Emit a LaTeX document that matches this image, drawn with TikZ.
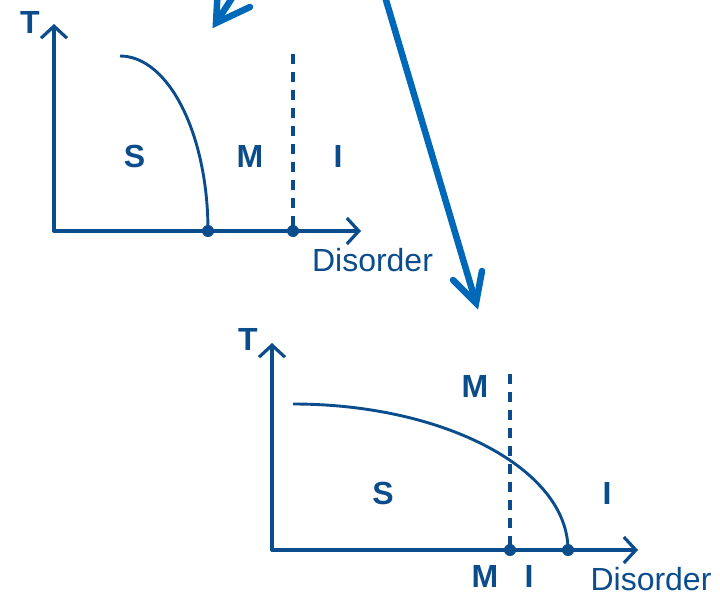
\documentclass[tikz,border=0pt]{standalone}
\usepackage{fontspec}
\setmainfont{Liberation Sans}
\usetikzlibrary{arrows.meta}
\definecolor{dblue}{HTML}{0B4C8C}
\definecolor{ablue}{HTML}{0068B8}
\tikzset{
  axis/.style={draw=dblue, line width=3.2pt, line cap=round, -{Straight Barb[length=12pt,width=26pt,line width=3.2pt]}},
  curve/.style={draw=dblue, line width=2.9pt},
  dashline/.style={draw=dblue, line width=3.2pt, dash pattern=on 10pt off 8pt},
  lbl/.style={text=dblue, inner sep=0pt, anchor=base, font=\fontsize{32}{36}\selectfont\bfseries},
  dlbl/.style={text=dblue, inner sep=0pt, anchor=base, font=\fontsize{32}{37}\selectfont},
  dot/.style={fill=dblue},
  bigarrow/.style={draw=ablue, line width=6.5pt, line cap=round, line join=miter},
}
\begin{document}
\begin{tikzpicture}[x=1pt,y=-1pt]
\useasboundingbox (0,0) rectangle (720,597);
% ---------- top diagram ----------
\coordinate (o1) at (54,231);
\coordinate (y1) at (54,24);
\coordinate (x1) at (361,231);
\draw[axis] (o1) -- (y1);
\draw[axis] (o1) -- (x1);
\coordinate (c1s) at (120,56);
\coordinate (c1e) at (208,231);
\draw[curve] (c1s) .. controls (168.6,56) and (208,134.4) .. (c1e);
\coordinate (d1t) at (293,54);
\coordinate (d1b) at (293,231);
\draw[dashline] (d1t) -- (d1b);
\fill[dot] (c1e) circle (6pt);
\fill[dot] (d1b) circle (6pt);
\node[lbl] (T1) at (30,33) {T};
\node[lbl] (S1) at (134.5,167) {S};
\node[lbl] (M1) at (250,167) {M};
\node[lbl] (I1) at (338,167) {I};
\node[dlbl] (D1) at (372.5,271) {Disorder};
% ---------- bottom diagram ----------
\coordinate (o2) at (272,550);
\coordinate (y2) at (272,343);
\coordinate (x2) at (638,550);
\draw[axis] (o2) -- (y2);
\draw[axis] (o2) -- (x2);
\coordinate (c2s) at (293,404);
\coordinate (c2e) at (568,550);
\draw[curve] (c2s) .. controls (444.9,404) and (568,469.4) .. (c2e);
\coordinate (d2t) at (510,374);
\coordinate (d2b) at (510,550);
\draw[dashline] (d2t) -- (d2b);
\fill[dot] (d2b) circle (6pt);
\fill[dot] (c2e) circle (6pt);
\node[lbl] (T2) at (248,350) {T};
\node[lbl] (M2) at (475,397) {M};
\node[lbl] (S2) at (383,504) {S};
\node[lbl] (I2) at (607,504) {I};
\node[lbl] (M3) at (485,587) {M};
\node[lbl] (I3) at (529,587) {I};
\node[dlbl] (D2) at (651,590) {Disorder};
% ---------- big arrows ----------
\coordinate (a1s) at (250,-30);
\coordinate (a1t) at (216,23);
\coordinate (a1l) at (218,-14);
\coordinate (a1r) at (250,7);
\draw[bigarrow] (a1s) -- (a1t);
\draw[bigarrow] (a1l) -- (a1t) -- (a1r);
\coordinate (a2s) at (383,-10);
\coordinate (a2t) at (476,303);
\coordinate (a2l) at (453,280);
\coordinate (a2r) at (482,271);
\draw[bigarrow] (a2s) -- (a2t);
\draw[bigarrow] (a2l) -- (a2t) -- (a2r);
\end{tikzpicture}
\end{document}
